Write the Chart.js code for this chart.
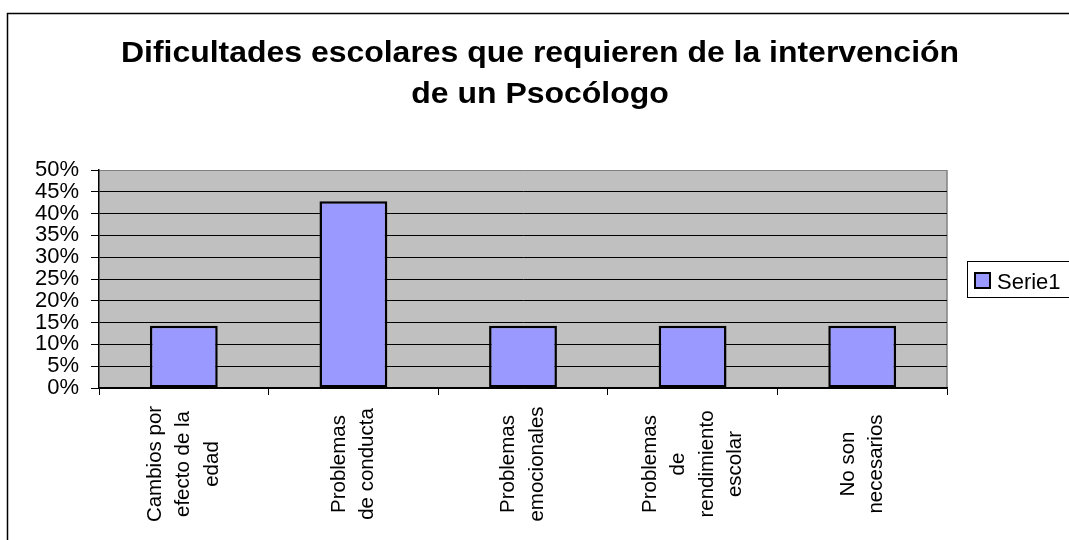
<!DOCTYPE html>
<html>
<head>
<meta charset="utf-8">
<script src="https://cdn.jsdelivr.net/npm/chart.js@4"></script>
<style>
  html, body { margin: 0; padding: 0; background: #fff; }
  #chart { display: block; }
</style>
</head>
<body>
<canvas id="chart" width="1069" height="540"></canvas>
<script>
// data
const titleLines = ['Dificultades escolares que requieren de la intervención', 'de un Psocólogo'];
const categories = [
    ['Cambios por', 'efecto de la', 'edad'],
    ['Problemas', 'de conducta'],
    ['Problemas', 'emocionales'],
    ['Problemas', 'de', 'rendimiento', 'escolar'],
    ['No son', 'necesarios']
];
const seriesName = 'Serie1';
const serie1 = [14.29, 42.86, 14.29, 14.29, 14.29];
const yTicks = [0, 5, 10, 15, 20, 25, 30, 35, 40, 45, 50];

const FONT = "'Liberation Sans', Arial, sans-serif";
Chart.defaults.font.family = FONT;

// white page, outer frame and grey plot area
const background = {
    id: 'background',
    beforeDraw: (chart) => {
        const {ctx, width, height, chartArea} = chart;
        ctx.save();
        ctx.fillStyle = '#fff';
        ctx.fillRect(0, 0, width, height);
        ctx.strokeStyle = '#000';
        ctx.lineWidth = 1.5;
        ctx.beginPath();
        ctx.moveTo(7.5, height + 5);
        ctx.lineTo(7.5, 13.5);
        ctx.lineTo(width + 5, 13.5);
        ctx.stroke();
        ctx.fillStyle = '#c0c0c0';
        ctx.fillRect(chartArea.left, chartArea.top, chartArea.right - chartArea.left, chartArea.bottom - chartArea.top);
        ctx.strokeStyle = '#808080';
        ctx.lineWidth = 1.5;
        ctx.beginPath();
        ctx.moveTo(chartArea.right, chartArea.top);
        ctx.lineTo(chartArea.right, chartArea.bottom);
        ctx.stroke();
        ctx.restore();
    }
};

// title, rotated category labels and the boxed legend
const decorations = {
    id: 'decorations',
    afterDraw: (chart) => {
        const {ctx} = chart;
        const xScale = chart.scales.x;
        ctx.save();

        ctx.fillStyle = '#000';
        ctx.font = 'bold 30px ' + FONT;
        ctx.textAlign = 'center';
        ctx.textBaseline = 'alphabetic';
        ctx.save();
        ctx.translate(540, 0);
        ctx.scale(1.065, 1);
        ctx.fillText(titleLines[0], 0, 62);
        ctx.fillText(titleLines[1], 0, 103);
        ctx.restore();

        ctx.font = '20.5px ' + FONT;
        ctx.textBaseline = 'middle';
        chart.data.labels.forEach((lines, i) => {
            const x = xScale.getPixelForTick(i);
            ctx.save();
            ctx.translate(x, 464);
            ctx.rotate(-Math.PI / 2);
            lines.forEach((line, j) => {
                ctx.fillText(line, 0, (j - (lines.length - 1) / 2) * 28.5);
            });
            ctx.restore();
        });

        const ds = chart.data.datasets[0];
        ctx.strokeStyle = '#000';
        ctx.lineWidth = 1;
        ctx.strokeRect(967.5, 261.5, 140, 36);
        ctx.fillStyle = ds.backgroundColor;
        ctx.fillRect(975, 273, 15, 15);
        ctx.lineWidth = 2;
        ctx.strokeRect(975, 273, 15, 15);
        ctx.fillStyle = '#000';
        ctx.font = '22px ' + FONT;
        ctx.textAlign = 'left';
        ctx.textBaseline = 'alphabetic';
        ctx.fillText(ds.label, 997, 289);

        ctx.restore();
    }
};

const ctx = document.getElementById('chart').getContext('2d');
const chart = new Chart(ctx, {
    type: 'bar',
    data: {
        labels: categories,
        datasets: [{
            label: seriesName,
            data: serie1,
            backgroundColor: '#9999ff',
            borderColor: '#000',
            borderWidth: 2.5,
            borderSkipped: false,
            barPercentage: 0.4,
            categoryPercentage: 1
        }]
    },
    options: {
        responsive: false,
        animation: false,
        devicePixelRatio: 1,
        layout: { padding: { top: 170, right: 122, bottom: 0, left: 0 } },
        plugins: {
            legend: { display: false },
            title: { display: false },
            tooltip: { enabled: false }
        },
        scales: {
            x: {
                afterFit: (s) => { s.height = 152; },
                grid: {
                    offset: true,
                    drawOnChartArea: false,
                    drawTicks: true,
                    tickLength: 7,
                    color: '#000',
                    lineWidth: 1
                },
                border: { color: '#000', width: 1.5 },
                ticks: { display: false }
            },
            y: {
                min: 0,
                max: 50,
                afterFit: (s) => { s.width = 99; },
                afterBuildTicks: (s) => { s.ticks = yTicks.map(v => ({value: v})); },
                grid: {
                    color: (c) => c.tick && c.tick.value === 50 ? '#808080' : '#000',
                    tickColor: '#000',
                    lineWidth: 1,
                    tickLength: 8
                },
                border: { color: '#000', width: 1.5 },
                ticks: {
                    color: '#000',
                    font: { size: 22 },
                    padding: 12,
                    autoSkip: false,
                    callback: (v) => v + '%'
                }
            }
        }
    },
    plugins: [background, decorations]
});
</script>
</body>
</html>
